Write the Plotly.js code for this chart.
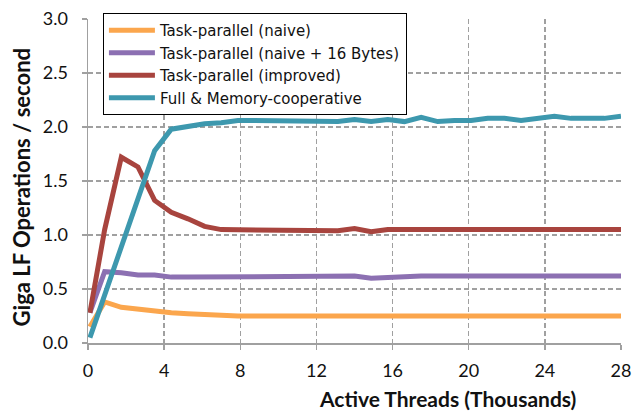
<!DOCTYPE html>
<html>
<head>
<meta charset="utf-8">
<script src="https://cdn.plot.ly/plotly-3.0.1.min.js"></script>
<style>html,body{margin:0;padding:0;background:#fff;}#chart{width:633px;height:416px;}</style>
</head>
<body>
<div id="chart"></div>
<script>
// Active threads (thousands)
const threads = [0.1, 0.875, 1.75, 2.625, 3.5, 4.375, 5.25, 6.125, 7, 7.875, 8.75, 9.625, 10.5, 11.375, 12.25, 13.125, 14, 14.875, 15.75, 16.625, 17.5, 18.375, 19.25, 20.125, 21, 21.875, 22.75, 23.625, 24.5, 25.375, 26.25, 27.125, 28];

const naive = [0.15, 0.38, 0.33, 0.31, 0.30, 0.28, 0.27, 0.26, 0.25, 0.25, 0.25, 0.25, 0.25, 0.25, 0.25, 0.25, 0.25, 0.25, 0.25, 0.25, 0.25, 0.25, 0.25, 0.25, 0.25, 0.25, 0.25, 0.25, 0.25, 0.25, 0.25, 0.25, 0.25];

const naive16 = [0.28, 0.66, 0.65, 0.63, 0.63, 0.61, 0.61, 0.61, 0.61, 0.61, 0.61, 0.61, 0.61, 0.61, 0.61, 0.61, 0.62, 0.60, 0.61, 0.62, 0.62, 0.62, 0.62, 0.62, 0.62, 0.62, 0.62, 0.62, 0.62, 0.62, 0.62, 0.62, 0.62];

const improved = [0.28, 1.05, 1.72, 1.63, 1.32, 1.21, 1.15, 1.08, 1.05, 1.05, 1.04, 1.04, 1.04, 1.04, 1.04, 1.04, 1.06, 1.03, 1.05, 1.05, 1.05, 1.05, 1.05, 1.05, 1.05, 1.05, 1.05, 1.05, 1.05, 1.05, 1.05, 1.05, 1.05];

const cooperative = [0.05, 0.45, 0.90, 1.35, 1.78, 1.98, 2.01, 2.03, 2.04, 2.06, 2.06, 2.06, 2.06, 2.06, 2.05, 2.05, 2.07, 2.05, 2.07, 2.05, 2.09, 2.05, 2.06, 2.06, 2.08, 2.08, 2.06, 2.08, 2.10, 2.08, 2.08, 2.08, 2.10];

const seriesNames = ["Task-parallel (naive)", "Task-parallel (naive + 16 Bytes)", "Task-parallel (improved)", "Full &amp; Memory-cooperative"];
const seriesColors = ["#FBA64D", "#8C70B2", "#A8443E", "#3D98AE"];
const seriesData = [naive, naive16, improved, cooperative];

const xTicks = [0, 4, 8, 12, 16, 20, 24, 28];
const yTicks = [0, 0.5, 1.0, 1.5, 2.0, 2.5, 3.0];

const traces = seriesData.map((ys, i) => ({
  x: threads, y: ys, type: "scatter", mode: "lines",
  name: seriesNames[i],
  line: {color: seriesColors[i], width: 5}
}));

const font = "Lato, 'Open Sans', sans-serif";
const layout = {
  width: 633, height: 416,
  margin: {l: 88, r: 12, t: 19, b: 73},
  paper_bgcolor: "#fff", plot_bgcolor: "#fff",
  showlegend: true,
  legend: {
    x: 0.028, y: 1.0185, xanchor: "left", yanchor: "top",
    bordercolor: "#000", borderwidth: 1, bgcolor: "#fff",
    font: {family: "'DejaVu Sans', sans-serif", size: 15, color: "#111"},
    itemwidth: 46,
    tracegroupgap: 0
  },
  xaxis: {
    range: [0, 28], tickvals: xTicks, ticktext: xTicks.map(String),
    showgrid: true, gridcolor: "#a0a0a0", griddash: "5px,3px", gridwidth: 1.5,
    showline: true, linecolor: "#a0a0a0", linewidth: 1.5,
    ticks: "outside", ticklen: 5, tickcolor: "#a0a0a0", tickwidth: 1.5,
    ticklabelstandoff: 6,
    zeroline: false,
    tickfont: {family: font, size: 18, color: "#111"}
  },
  yaxis: {
    range: [0, 3], tickvals: yTicks, ticktext: yTicks.map(v => v.toFixed(1)),
    showgrid: true, gridcolor: "#a0a0a0", griddash: "5px,3px", gridwidth: 1.5,
    showline: true, linecolor: "#a0a0a0", linewidth: 1.5,
    ticks: "outside", ticklen: 5, tickcolor: "#a0a0a0", tickwidth: 1.5,
    ticklabelstandoff: 10,
    zeroline: false,
    tickfont: {family: font, size: 18, color: "#111"}
  },
  annotations: [
    {text: "<b>Active Threads (Thousands)</b>", xref: "paper", yref: "paper",
     x: 0.674, y: -0.170, xanchor: "center", yanchor: "middle", showarrow: false,
     font: {family: font, size: 21, color: "#111"}},
    {text: "<b>Giga LF Operations / second</b>", xref: "paper", yref: "paper",
     x: -0.124, y: 0.48, xanchor: "center", yanchor: "middle", showarrow: false, textangle: -90,
     font: {family: font, size: 22, color: "#111"}}
  ]
};

Plotly.newPlot("chart", traces, layout, {displayModeBar: false, staticPlot: true});
</script>
</body>
</html>
